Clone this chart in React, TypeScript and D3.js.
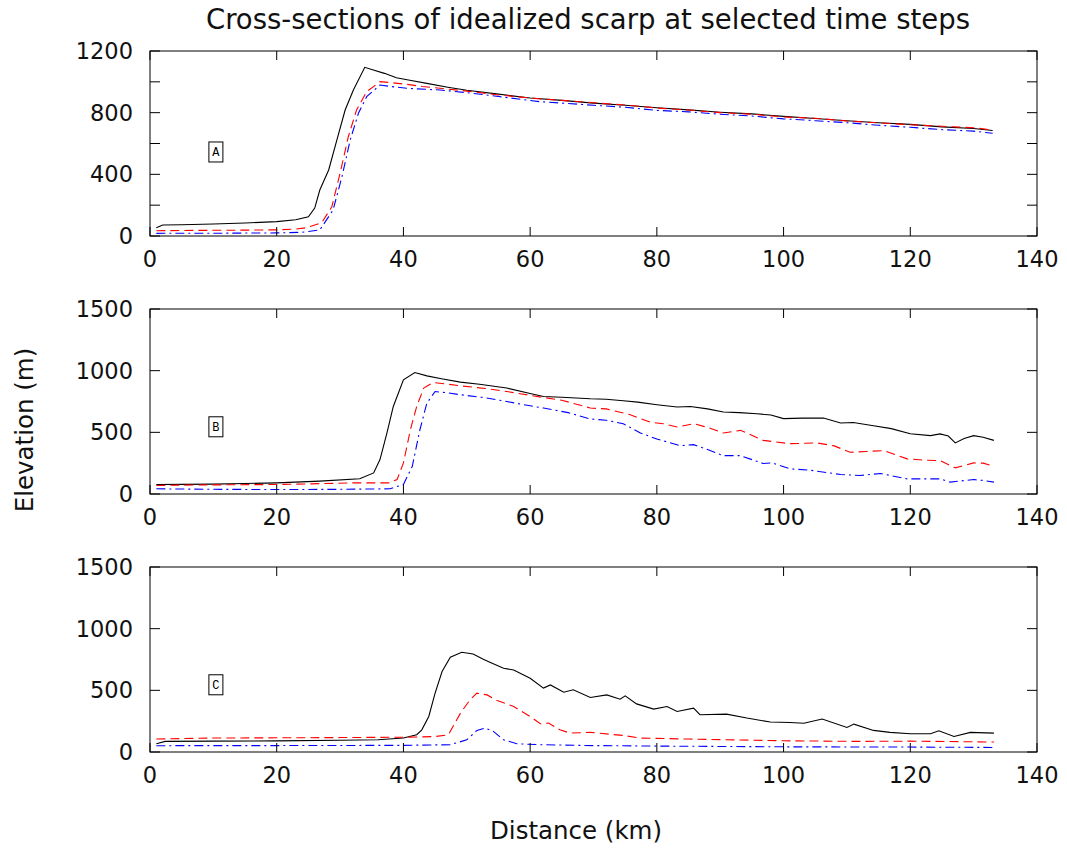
import React from "react";
import * as d3 from "d3";

type P = [number, number];

const xTicks = [0, 20, 40, 60, 80, 100, 120, 140];
const panelLabels = ["A", "B", "C"];
const yDomains: [number, number][] = [[0, 1200], [0, 1500], [0, 1500]];
const yTickStep = [200, 500, 500];
const yLabelTicks = [[0, 400, 800, 1200], [0, 500, 1000, 1500], [0, 500, 1000, 1500]];

const aBlack: P[] = [[1,54],[2,71],[5,73],[10,78],[15,84],[20,93],[23,105],[25,125],[26,181],[26.8,298],[28.2,428],[29.5,623],[30.8,817],[32.1,947],[33.9,1094],[35,1080],[37,1055],[38.9,1027],[41,1010],[43.7,990],[47,965],[50,945],[55,920],[60,895],[65,880],[70,862],[75,848],[80,832],[85,818],[90,803],[95,792],[100,776],[105,762],[110,748],[115,735],[120,724],[125,708],[130,697],[133,684]];
const aRed: P[] = [[1,34],[5,36],[10,37],[15,38],[20,40],[23,45],[24.7,54],[27.1,86],[28.7,190],[30,407],[31.3,644],[32.6,817],[34.2,936],[36.3,1001],[38,995],[40.5,984],[43,970],[45.8,958],[50,940],[55,915],[60,895],[65,880],[70,864],[75,850],[80,830],[85,817],[90,800],[95,790],[100,772],[105,764],[110,746],[115,734],[120,722],[125,712],[130,702],[133,688]];
const aBlue: P[] = [[1,17],[5,18],[10,18],[15,19],[20,20],[24,24],[26.8,39],[28.9,169],[30.3,385],[31.6,623],[32.9,796],[34.2,904],[36.3,979],[38,970],[40.5,958],[45.8,947],[50,930],[55,905],[61.6,871],[65,862],[70,848],[75,835],[80,815],[85,805],[90,790],[95,778],[100,760],[105,748],[110,735],[115,718],[120,705],[125,690],[130,680],[133,666]];

const bBlack: P[] = [[1,77],[5,78],[10,80],[15,85],[20,90],[26.8,104],[33.1,123],[35.3,171],[36.3,279],[37.4,495],[38.4,710],[40,926],[41.8,985],[43.7,958],[46,935],[49,907],[52,890],[56.3,859],[60,815],[62.1,791],[65,785],[69.5,772],[72,768],[74.7,756],[77,745],[80,724],[83.2,705],[85.3,710],[88,690],[90.5,665],[93,660],[95.8,651],[98,640],[100,611],[103,615],[106.3,616],[109,576],[111,580],[114.2,554],[117,530],[120,489],[123.2,473],[124.7,487],[126,470],[127.1,414],[128.5,450],[130,473],[131.5,460],[133.2,435]];
const bRed: P[] = [[1,69],[5,72],[10,74],[20,77],[25,82],[32.1,90],[37.7,90],[39,117],[40,252],[41.1,521],[42.1,710],[43.2,859],[44.7,904],[47,890],[49,877],[53,855],[56.3,831],[60,800],[62.1,783],[65,760],[69.5,697],[72,690],[75.8,643],[79,581],[81,570],[83.2,543],[85.8,570],[88,540],[90.5,495],[93.2,516],[96.8,435],[101,408],[105.3,414],[108,390],[110.5,338],[113,345],[115.8,352],[119.5,285],[122,275],[124.7,271],[127.1,212],[130,252],[131.5,250],[133.2,225]];
const bBlue: P[] = [[1,42],[10,38],[20,36],[30,38],[37.9,42],[40,77],[41.4,225],[42.6,521],[43.7,737],[45,831],[47,820],[49,805],[53,780],[56.3,750],[60,715],[62.1,697],[66,660],[69.5,608],[72,598],[74.7,570],[77.4,495],[80,446],[83.7,392],[85.8,400],[88,360],[90.5,311],[93.2,311],[96.8,247],[98.2,252],[101,204],[104.2,193],[109,158],[112,150],[115.3,166],[119.5,123],[124.7,123],[126.3,96],[130,117],[131.5,110],[133.2,96]];

const cBlack: P[] = [[1,67],[2.4,86],[10,88],[20,90],[30,95],[36,99],[40,113],[42.1,140],[42.9,180],[44,288],[45,477],[46.1,652],[47.4,768],[49.2,809],[51,795],[52.6,752],[54,720],[55.8,679],[57.4,665],[60,598],[62.1,518],[63.2,544],[65.3,485],[66.8,504],[69.5,442],[72.1,463],[74.2,428],[75,455],[76.8,390],[79.5,348],[81.6,369],[83.2,328],[85.8,356],[86.8,302],[91,307],[94.2,275],[97.9,243],[101,239],[103.2,233],[106.1,267],[110,199],[111.1,226],[114.2,175],[116.8,159],[120,148],[123.2,148],[124.5,172],[126.9,126],[129.5,159],[133.2,153]];
const cRed: P[] = [[1,105],[10,113],[20,115],[30,117],[40,120],[45,125],[47.1,140],[49,315],[50.5,423],[51.6,477],[53.2,463],[54.8,417],[57.4,369],[60,288],[61.6,229],[62.9,234],[64.7,180],[66.3,153],[69.5,159],[74.7,134],[77.4,113],[85,105],[100,91],[111.6,86],[120,88],[133.2,81]];
const cBlue: P[] = [[1,51],[10,52],[20,52],[30,53],[40,54],[47.4,59],[50,99],[51.6,175],[52.9,194],[54.2,167],[55.8,99],[57.9,67],[61.6,59],[70,52],[80,48],[100,42],[120,40],[133.2,37]];

const panelSeries = [
  [aBlack, aRed, aBlue],
  [bBlack, bRed, bBlue],
  [cBlack, cRed, cBlue],
];
const labelPos: P = [10.4, 545];

const seriesStyle = [
  { stroke: "#000000", dash: "none" },
  { stroke: "#ff0000", dash: "9,5" },
  { stroke: "#0000ff", dash: "9,4,2,4" },
];

const W = 1067;
const H = 850;
const left = 150;
const right = 1037;
const panelTops = [51, 309, 567];
const panelH = 185;
const FONT = "DejaVu Sans, Verdana, sans-serif";

export default function App() {
  const x = d3.scaleLinear().domain([0, 140]).range([left, right]);
  return (
    <svg width={W} height={H} style={{ position: "absolute", left: 0, top: 0, background: "#fff" }}>
      <rect x={0} y={0} width={W} height={H} fill="#fff" />
      <text x={588} y={29} textAnchor="middle" fontFamily={FONT} fontSize={27.5} fill="#111">
        Cross-sections of idealized scarp at selected time steps
      </text>
      {panelTops.map((top, i) => {
        const dom = yDomains[i];
        const y = d3.scaleLinear().domain(dom).range([top + panelH, top]);
        const bottom = top + panelH;
        const minor = d3.range(dom[0], dom[1] + 1, yTickStep[i]);
        const line = d3.line<P>().x((d) => x(d[0])).y((d) => y(d[1]));
        return (
          <g key={i}>
            <defs>
              <clipPath id={`clip${i}`}>
                <rect x={left} y={top} width={right - left} height={panelH} />
              </clipPath>
            </defs>
            <g clipPath={`url(#clip${i})`}>
              {panelSeries[i].map((s, j) => (
                <path key={j} d={line(s) || ""} fill="none" stroke={seriesStyle[j].stroke}
                  strokeWidth={1.1} strokeDasharray={seriesStyle[j].dash} />
              ))}
            </g>
            <rect x={left} y={top} width={right - left} height={panelH} fill="none" stroke="#000" strokeWidth={1} />
            {xTicks.map((t) => (
              <g key={t}>
                <line x1={x(t)} x2={x(t)} y1={bottom} y2={bottom - 9} stroke="#000" />
                <line x1={x(t)} x2={x(t)} y1={top} y2={top + 9} stroke="#000" />
                <text x={x(t)} y={bottom + 31} textAnchor="middle" fontFamily={FONT} fontSize={22.5} fill="#111">
                  {t}
                </text>
              </g>
            ))}
            {minor.map((t) => (
              <g key={t}>
                <line x1={left} x2={left + 10} y1={y(t)} y2={y(t)} stroke="#000" />
                <line x1={right} x2={right - 10} y1={y(t)} y2={y(t)} stroke="#000" />
              </g>
            ))}
            {yLabelTicks[i].map((t) => (
              <text key={t} x={133} y={y(t) + 8} textAnchor="end" fontFamily={FONT} fontSize={22.5} fill="#111">
                {t}
              </text>
            ))}
            <rect x={x(labelPos[0]) - 7} y={y(labelPos[1]) - 10} width={14} height={20} fill="#fff" stroke="#000" strokeWidth={1} />
            <text x={x(labelPos[0])} y={y(labelPos[1]) + 4.5} textAnchor="middle" fontFamily="Liberation Mono, monospace" fontSize={12} fill="#000">
              {panelLabels[i]}
            </text>
          </g>
        );
      })}
      <text transform="translate(33,430) rotate(-90)" textAnchor="middle" fontFamily={FONT} fontSize={24.5} fill="#111">
        Elevation (m)
      </text>
      <text x={576} y={839} textAnchor="middle" fontFamily={FONT} fontSize={24.5} fill="#111">
        Distance (km)
      </text>
    </svg>
  );
}
